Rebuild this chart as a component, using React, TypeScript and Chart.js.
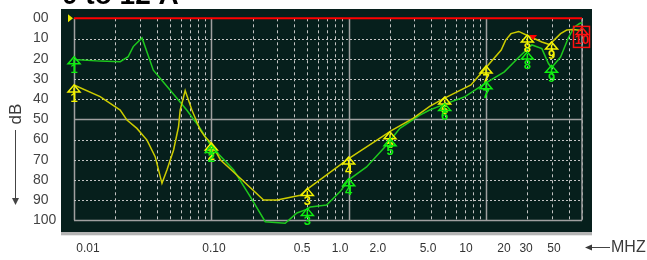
import { useEffect, useRef } from 'react';
import { Chart, registerables } from 'chart.js';

Chart.register(...registerables);

// ---------- data ----------
const titleText = '0 to 12 A';
const yTitle = 'dB';
const xUnit = 'MHZ';

const yellowFreq = [0.01, 0.0155, 0.0217, 0.0243, 0.0287, 0.034, 0.039, 0.0437, 0.0475, 0.0531, 0.0577, 0.0593, 0.0645, 0.0722, 0.083, 0.09, 0.1, 0.1163, 0.1625, 0.24, 0.3015, 0.444, 0.5, 1.0, 2.06, 2.94, 3.89, 4.91, 7.77, 9.97, 12.9, 13.9, 15.2, 17.3, 20, 25.5, 29, 34.9, 38.7, 43, 50];
const yellowDb = [33, 38.8, 45.4, 50.4, 54.5, 60.3, 68.5, 81.7, 75.1, 65.2, 53.7, 45.5, 35.8, 45.4, 55.3, 58.6, 62, 70, 79.2, 90, 90, 87.6, 84.6, 69.5, 55.5, 49.5, 43.6, 39.8, 33, 24.5, 15.7, 10.8, 7.6, 6.5, 8.5, 11.7, 13, 7.6, 5.8, 5.5, 6];

const greenFreq = [0.01, 0.0155, 0.0217, 0.0248, 0.027, 0.0313, 0.0378, 0.0502, 0.0664, 0.083, 0.1, 0.145, 0.192, 0.247, 0.345, 0.42, 0.5, 0.5253, 0.6907, 0.867, 1.0, 1.35, 1.89, 2.36, 3.3, 3.89, 5.0, 6.95, 10, 13.6, 18, 21.6, 25.5, 28.5, 30, 34.9, 40, 44, 48, 50];
const greenDb = [20.4, 21.2, 21.5, 19, 14, 9.7, 25.7, 35.6, 45.5, 54.5, 63.5, 75, 88.3, 100.7, 101.5, 96.4, 94.5, 93.4, 92.4, 85.8, 80, 73.6, 62.7, 54.5, 47.9, 45.4, 42.5, 39, 32, 26.5, 18.2, 13.2, 15, 22.4, 24.5, 19.2, 9.3, 4.3, 2.6, 2.2];

const markerFreq = [0.01, 0.1, 0.5, 1, 2, 5, 10, 20, 30];
const markerNames = ['1', '2', '3', '4', '5', '6', '7', '8', '9'];
const yellowMarkerDb = [33, 61.7, 84.2, 68.7, 56.2, 39, 23.6, 8.3, 11.7];
const greenMarkerDb = [19, 63, 94.1, 79.4, 59.6, 42.2, 31.4, 16.7, 23.3];

const endMarkerFreq = [50];
const endMarkerDb = [4.5];
const endMarkerNames = ['10'];

const flagFreq = [22];
const flagDb = [8.3];

const refFreq = [0.01, 50];
const refDb = [0, 0];

const yTicks = [0, 10, 20, 30, 40, 50, 60, 70, 80, 90, 100];
const yTickLabels = ['00', '10', '20', '30', '40', '50', '60', '70', '80', '90', '100'];
const xLabelValues = [0.01, 0.1, 0.5, 1, 2, 5, 10, 20, 30, 50];
const xLabelText = ['0.01', '0.10', '0.5', '1.0', '2.0', '5.0', '10', '20', '30', '50'];

const FONT = '"Liberation Sans", Arial, sans-serif';

const pts = (xs: number[], ys: number[]) => xs.map((x, i) => ({ x, y: ys[i] }));

function drawMarker(ctx: CanvasRenderingContext2D, x: number, y: number, name: string, color: string) {
  ctx.save();
  ctx.strokeStyle = color;
  ctx.fillStyle = color;
  ctx.lineWidth = 1.5;
  const w = 6, h = 7;
  ctx.beginPath();
  ctx.moveTo(x, y);
  ctx.lineTo(x - w, y + h);
  ctx.lineTo(x + w, y + h);
  ctx.closePath();
  ctx.stroke();
  ctx.beginPath();
  ctx.moveTo(x, y + 2.5);
  ctx.lineTo(x, y + h + 2);
  ctx.stroke();
  ctx.font = `bold 13px ${FONT}`;
  ctx.textAlign = 'center';
  ctx.textBaseline = 'top';
  ctx.fillText(name, x, y + h - 0.5);
  ctx.restore();
}

const decorPlugin = {
  id: 'decor',
  beforeDraw(chart: any) {
    const { ctx, chartArea: a } = chart;
    ctx.save();
    ctx.fillStyle = '#ffffff';
    ctx.fillRect(0, 0, chart.width, chart.height);
    ctx.fillStyle = '#061f1c';
    ctx.fillRect(a.left - 13, a.top - 9.3, a.right - a.left + 23, a.bottom - a.top + 21);
    ctx.fillStyle = '#b4b4b4';
    ctx.fillRect(a.left - 13, a.bottom + 11.7, a.right - a.left + 23, 3.3);
    ctx.restore();
  },
  beforeDatasetsDraw(chart: any) {
    const { ctx, chartArea: a } = chart;
    const xs = chart.scales.x;
    const ys = chart.scales.y;
    ctx.save();
    for (let e = -2; e <= 1; e++) {
      for (let k = 1; k <= 9; k++) {
        const v = k * Math.pow(10, e);
        if (v > 50.0001) break;
        const px = Math.round(xs.getPixelForValue(v)) + 0.5;
        const major = k === 1;
        ctx.beginPath();
        if (major) {
          ctx.setLineDash([]);
          ctx.strokeStyle = '#a0a0a0';
          ctx.lineWidth = 1.5;
        } else {
          ctx.setLineDash([3, 3]);
          ctx.strokeStyle = '#c4c4c4';
          ctx.lineWidth = 1;
        }
        ctx.moveTo(px, a.top);
        ctx.lineTo(px, a.bottom);
        ctx.stroke();
      }
    }
    ctx.setLineDash([]);
    ctx.strokeStyle = '#a0a0a0';
    ctx.lineWidth = 1.5;
    ctx.beginPath();
    ctx.moveTo(a.right, a.top);
    ctx.lineTo(a.right, a.bottom);
    ctx.stroke();
    for (const d of yTicks) {
      if (d === 0) continue;
      const py = Math.round(ys.getPixelForValue(d)) + 0.5;
      ctx.beginPath();
      if (d === 50 || d === 100) {
        ctx.setLineDash([]);
        ctx.strokeStyle = '#a0a0a0';
        ctx.lineWidth = 1.5;
      } else {
        ctx.setLineDash([2, 2]);
        ctx.strokeStyle = '#c4c4c4';
        ctx.lineWidth = 1;
      }
      ctx.moveTo(a.left, py);
      ctx.lineTo(a.right, py);
      ctx.stroke();
    }
    ctx.restore();
  },
  afterDatasetsDraw(chart: any) {
    const { ctx, chartArea: a } = chart;
    ctx.save();
    ctx.fillStyle = '#e8e800';
    ctx.beginPath();
    ctx.moveTo(a.left - 6, a.top - 4);
    ctx.lineTo(a.left - 6, a.top + 4);
    ctx.lineTo(a.left - 1, a.top);
    ctx.closePath();
    ctx.fill();
    ctx.restore();

    const yMeta = chart.getDatasetMeta(3);
    yMeta.data.forEach((el: any, i: number) => drawMarker(ctx, el.x, el.y, markerNames[i], '#f4f400'));
    const gMeta = chart.getDatasetMeta(4);
    gMeta.data.forEach((el: any, i: number) => drawMarker(ctx, el.x, el.y, markerNames[i], '#10ee10'));
    const eMeta = chart.getDatasetMeta(5);
    eMeta.data.forEach((el: any, i: number) => {
      drawMarker(ctx, el.x, el.y, endMarkerNames[i], '#ff1010');
      ctx.save();
      ctx.strokeStyle = '#ff1010';
      ctx.lineWidth = 1.5;
      ctx.strokeRect(el.x - 8.5, el.y - 1, 16, 21);
      ctx.restore();
    });
    const fMeta = chart.getDatasetMeta(6);
    fMeta.data.forEach((el: any) => {
      ctx.save();
      ctx.fillStyle = '#ff0000';
      ctx.beginPath();
      ctx.moveTo(el.x - 4, el.y);
      ctx.lineTo(el.x + 4, el.y);
      ctx.lineTo(el.x, el.y + 5);
      ctx.closePath();
      ctx.fill();
      ctx.restore();
    });
  },
  afterDraw(chart: any) {
    const { ctx, chartArea: a } = chart;
    ctx.save();
    ctx.fillStyle = '#000';
    ctx.font = `bold 28px ${FONT}`;
    ctx.textAlign = 'left';
    ctx.textBaseline = 'alphabetic';
    ctx.fillText(titleText, a.left - 12, 4);
    ctx.fillStyle = '#3a3a3a';
    ctx.font = `17px ${FONT}`;
    ctx.translate(20.5, 114);
    ctx.rotate(-Math.PI / 2);
    ctx.textAlign = 'center';
    ctx.textBaseline = 'alphabetic';
    ctx.fillText(yTitle, 0, 0);
    ctx.restore();
    ctx.save();
    ctx.strokeStyle = '#444';
    ctx.fillStyle = '#444';
    ctx.lineWidth = 1;
    ctx.beginPath();
    ctx.moveTo(15.5, 130);
    ctx.lineTo(15.5, 200);
    ctx.stroke();
    ctx.beginPath();
    ctx.moveTo(12, 198);
    ctx.lineTo(19, 198);
    ctx.lineTo(15.5, 205);
    ctx.closePath();
    ctx.fill();
    ctx.font = `16px ${FONT}`;
    ctx.fillStyle = '#3a3a3a';
    ctx.textAlign = 'left';
    ctx.textBaseline = 'middle';
    ctx.fillText(xUnit, 611, 248);
    ctx.beginPath();
    ctx.moveTo(588, 247.5);
    ctx.lineTo(610, 247.5);
    ctx.stroke();
    ctx.beginPath();
    ctx.moveTo(585, 247.5);
    ctx.lineTo(592, 244.5);
    ctx.lineTo(592, 250.5);
    ctx.closePath();
    ctx.fill();
    ctx.restore();
  },
};

export default function App() {
  const ref = useRef<HTMLCanvasElement>(null);
  useEffect(() => {
    if (!ref.current) return;
    const chart = new Chart(ref.current, {
      type: 'line',
      data: {
        datasets: [
          { data: pts(refFreq, refDb), borderColor: '#ff0000', borderWidth: 2, pointRadius: 0, clip: false, xAxisID: 'x', yAxisID: 'y' },
          { data: pts(yellowFreq, yellowDb), borderColor: '#cccc00', borderWidth: 1.5, pointRadius: 0, clip: false, xAxisID: 'x', yAxisID: 'y' },
          { data: pts(greenFreq, greenDb), borderColor: '#1ec81e', borderWidth: 1.5, pointRadius: 0, clip: false, xAxisID: 'x', yAxisID: 'y' },
          { data: pts(markerFreq, yellowMarkerDb), showLine: false, pointRadius: 0, clip: false, xAxisID: 'x', yAxisID: 'y' },
          { data: pts(markerFreq, greenMarkerDb), showLine: false, pointRadius: 0, clip: false, xAxisID: 'x', yAxisID: 'y' },
          { data: pts(endMarkerFreq, endMarkerDb), showLine: false, pointRadius: 0, clip: false, xAxisID: 'x', yAxisID: 'y' },
          { data: pts(flagFreq, flagDb), showLine: false, pointRadius: 0, clip: false, xAxisID: 'x', yAxisID: 'y' },
        ] as any,
      },
      options: {
        responsive: false,
        animation: false,
        layout: { padding: { left: 33, right: 65, top: 18.3, bottom: 0 } },
        plugins: { legend: { display: false }, tooltip: { enabled: false } },
        scales: {
          x: { type: 'logarithmic', min: 0.01, max: 50, display: false },
          xl: {
            type: 'logarithmic',
            position: 'bottom',
            min: 0.00774,
            max: 83.4,
            grid: { display: false, drawTicks: false },
            border: { display: false },
            afterBuildTicks: (s: any) => { s.ticks = xLabelValues.map((v) => ({ value: v })); },
            afterFit: (s: any) => { s.height = 39.7; },
            ticks: {
              autoSkip: false,
              maxRotation: 0,
              padding: 21,
              color: '#333',
              font: { size: 12, family: FONT },
              callback: (_v: any, i: number) => xLabelText[i],
            },
          },
          y: {
            type: 'linear',
            min: 0,
            max: 100,
            reverse: true,
            grid: { display: false, drawTicks: false },
            border: { display: false },
            afterFit: (s: any) => { s.width = 41; },
            afterBuildTicks: (s: any) => { s.ticks = yTicks.map((v) => ({ value: v })); },
            ticks: {
              autoSkip: false,
              padding: 0,
              crossAlign: 'far',
              color: '#444',
              font: { size: 14, family: FONT },
              callback: (_v: any, i: number) => yTickLabels[i],
            },
          },
        } as any,
      },
      plugins: [decorPlugin],
    });
    return () => chart.destroy();
  }, []);
  return (
    <div style={{ position: 'fixed', left: 0, top: 0, width: 647, height: 260, background: '#fff' }}>
      <canvas ref={ref} width={647} height={260} style={{ width: 647, height: 260, display: 'block' }} />
    </div>
  );
}
